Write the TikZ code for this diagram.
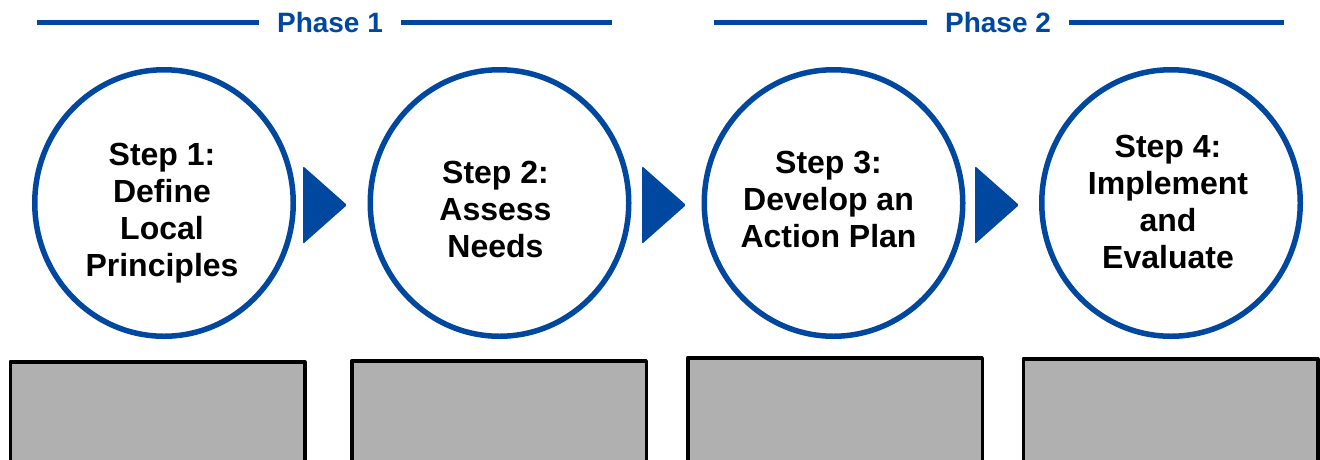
\documentclass[tikz,border=0pt]{standalone}
\usepackage{fontspec}
\setmainfont{Liberation Sans}
\usetikzlibrary{shapes.geometric}
\definecolor{stepblue}{RGB}{0,71,160}
\definecolor{boxgray}{RGB}{176,176,176}
\begin{document}
\begin{tikzpicture}[x=1pt, y=-1pt, line join=round,
    ring/.style={draw=stepblue, line width=5.5pt, ellipse, inner sep=0pt, minimum width=258.5pt, minimum height=266.5pt},
    steptext/.style={align=center, inner sep=0pt, font=\fontsize{32}{37}\selectfont\bfseries},
    phasetext/.style={text=stepblue, inner xsep=18pt, font=\fontsize{28}{34}\selectfont\bfseries},
    phaseline/.style={draw=stepblue, line width=5pt},
    notebox/.style={draw=black, line width=3.5pt, fill=boxgray, anchor=north, inner sep=0pt, minimum width=294.5pt, minimum height=120pt}]
    \clip (0,0) rectangle (1320,459);
    \node[phasetext] (p1) at (330,22.5) {Phase 1};
    \node[phasetext] (p2) at (998,22.5) {Phase 2};
    \coordinate (p1a) at (37,22.5); \coordinate (p1b) at (612,22.5);
    \coordinate (p2a) at (714,22.5); \coordinate (p2b) at (1284,22.5);
    \draw[phaseline] (p1a)--(p1.west) (p1.east)--(p1b);
    \draw[phaseline] (p2a)--(p2.west) (p2.east)--(p2b);
    \foreach \n/\x in {s1/164,s2/499.5,s3/833.5,s4/1171} \node[ring] (\n) at (\x,203) {};
    \node[steptext] (t1) at ([xshift=-2pt,yshift=-10pt]s1.center) {Step 1:\\Define\\Local\\Principles};
    \node[steptext] (t2) at ([xshift=-4pt,yshift=-6.5pt]s2.center) {Step 2:\\Assess\\Needs};
    \node[steptext] (t3) at ([xshift=-5pt,yshift=4pt]s3.center) {Step 3:\\Develop an\\Action Plan};
    \node[steptext] (t4) at ([xshift=-3pt,yshift=1.5pt]s4.center) {Step 4:\\Implement\\and\\Evaluate};
    \foreach \x in {303,642,975} \fill[stepblue, rounded corners=2pt] (\x,166)--(\x,244)--(\x+44,205)--cycle;
    \node[notebox] (n1) at (157.5,360) {};
    \node[notebox] (n2) at (499,359) {};
    \node[notebox] (n3) at (835,356) {};
    \node[notebox] (n4) at (1170.5,357) {};
\end{tikzpicture}
\end{document}
